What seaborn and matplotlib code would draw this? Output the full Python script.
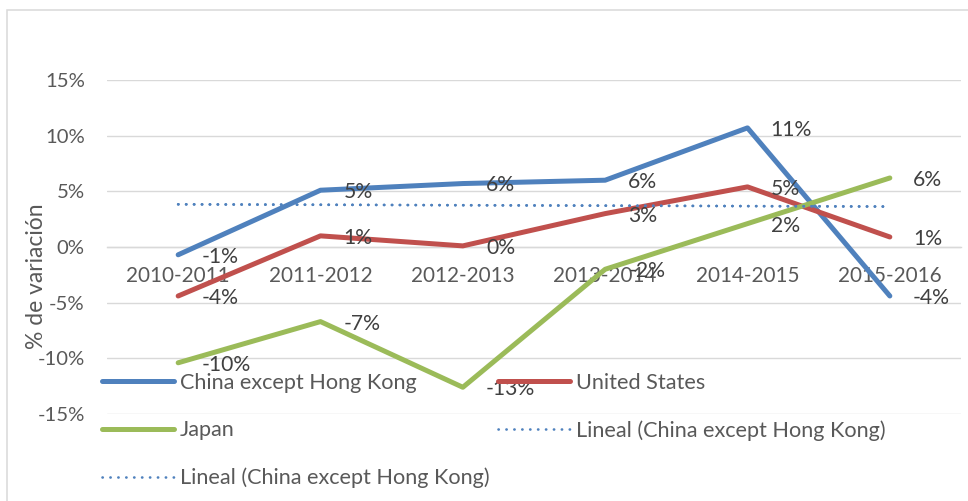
import numpy as np
import pandas as pd
import matplotlib
matplotlib.use("Agg")
import matplotlib.pyplot as plt
from matplotlib.lines import Line2D
from matplotlib.patches import Rectangle
import seaborn as sns

# ---- data (percent) ----
periods = ["2010-2011", "2011-2012", "2012-2013", "2013-2014", "2014-2015", "2015-2016"]
china = [-0.7, 5.1, 5.7, 6.0, 10.7, -4.4]
united_states = [-4.4, 1.0, 0.1, 3.0, 5.4, 0.9]
japan = [-10.4, -6.7, -12.6, -2.0, 2.1, 6.2]
series_names = ["China except Hong Kong", "United States", "Japan"]
trend_label = "Lineal (China except Hong Kong)"
y_ticks = [-15, -10, -5, 0, 5, 10, 15]
y_label = "% de variación"

colors = {"China except Hong Kong": "#4F81BD", "United States": "#C0504D", "Japan": "#9BBB59"}

df = pd.DataFrame({
    "period": periods * 3,
    "value": china + united_states + japan,
    "series": [series_names[0]] * 6 + [series_names[1]] * 6 + [series_names[2]] * 6,
})

sns.set_style("white")
plt.rcParams["font.family"] = ["Lato", "DejaVu Sans"]

W, H = 968, 501
fig = plt.figure(figsize=(W / 100, H / 100), dpi=100)
ax = fig.add_axes([107 / W, 87 / H, (961 - 107) / W, (414 - 80) / H])

LW = 3.6
sns.lineplot(data=df, x="period", y="value", hue="series", palette=colors,
             linewidth=LW, ax=ax, legend=False, sort=False, zorder=3)
for line in ax.lines:
    line.set_solid_capstyle("round")
    line.set_solid_joinstyle("round")

# linear trend of China series (two identical trendlines as in the original)
xs = np.arange(len(periods))
coef = np.polyfit(xs, china, 1)
trend = np.polyval(coef, xs)
dot_style = (0, (0.1, 2.9))
for _ in range(2):
    ax.plot(xs, trend, color="#4F81BD", linewidth=1.9, linestyle=dot_style,
            dash_capstyle="round", zorder=4)

# data labels
for vals in (china, united_states, japan):
    for i, v in enumerate(vals):
        ax.annotate(f"{round(v):.0f}%", (i, v), xytext=(16.6, -1.4),
                    textcoords="offset points", ha="left", va="center",
                    fontsize=15.2, color="#404040", zorder=6)

ax.set_xlim(-0.5, len(periods) - 0.5)
ax.set_ylim(-15, 15)
ax.set_yticks(y_ticks)
ax.set_yticklabels([f"{t}%" for t in y_ticks])
ax.grid(axis="y", color="#D9D9D9", linewidth=1.0)
ax.grid(axis="x", visible=False)
ax.set_axisbelow(True)
for s in ["top", "right", "left"]:
    ax.spines[s].set_visible(False)
ax.spines["bottom"].set_position(("data", 0))
ax.spines["bottom"].set_color("#D9D9D9")
ax.spines["bottom"].set_linewidth(1.0)
ax.tick_params(axis="x", length=0, pad=14, labelsize=14.9, labelcolor="#595959")
ax.tick_params(axis="y", length=0, pad=16, labelsize=14.6, labelcolor="#595959")
ax.set_xlabel("")
ax.set_ylabel("")
ax.patch.set_alpha(0)

fig.text(37 / W, 1 - 276 / H, y_label, rotation=90, ha="center", va="center",
         fontsize=16.5, color="#595959")

# legend (column-major: China, Japan, Lineal | United States, Lineal)
h_china = Line2D([], [], color=colors["China except Hong Kong"], linewidth=LW, solid_capstyle="round")
h_us = Line2D([], [], color=colors["United States"], linewidth=LW, solid_capstyle="round")
h_jp = Line2D([], [], color=colors["Japan"], linewidth=LW, solid_capstyle="round")
h_tr = Line2D([], [], color="#4F81BD", linewidth=1.9, linestyle=dot_style, dash_capstyle="round")
leg = fig.legend([h_china, h_jp, h_tr, h_us, h_tr],
                 [series_names[0], series_names[2], trend_label, series_names[1], trend_label],
                 ncol=2, loc="upper left", bbox_to_anchor=(102 / W, 1 - 373 / H),
                 frameon=False, fontsize=15.6, labelcolor="#595959",
                 handlelength=3.3, handletextpad=0.3, labelspacing=1.26,
                 columnspacing=0.4, borderpad=0, borderaxespad=0)
leg.set_zorder(10)

# outer chart border
fig.patches.append(Rectangle((7 / W, -0.1), 1.2, 1 - 10 / H + 0.1, transform=fig.transFigure,
                             fill=False, edgecolor="#D9D9D9", linewidth=1.1, zorder=0))

fig.savefig("out.png", dpi=100, facecolor="white")
